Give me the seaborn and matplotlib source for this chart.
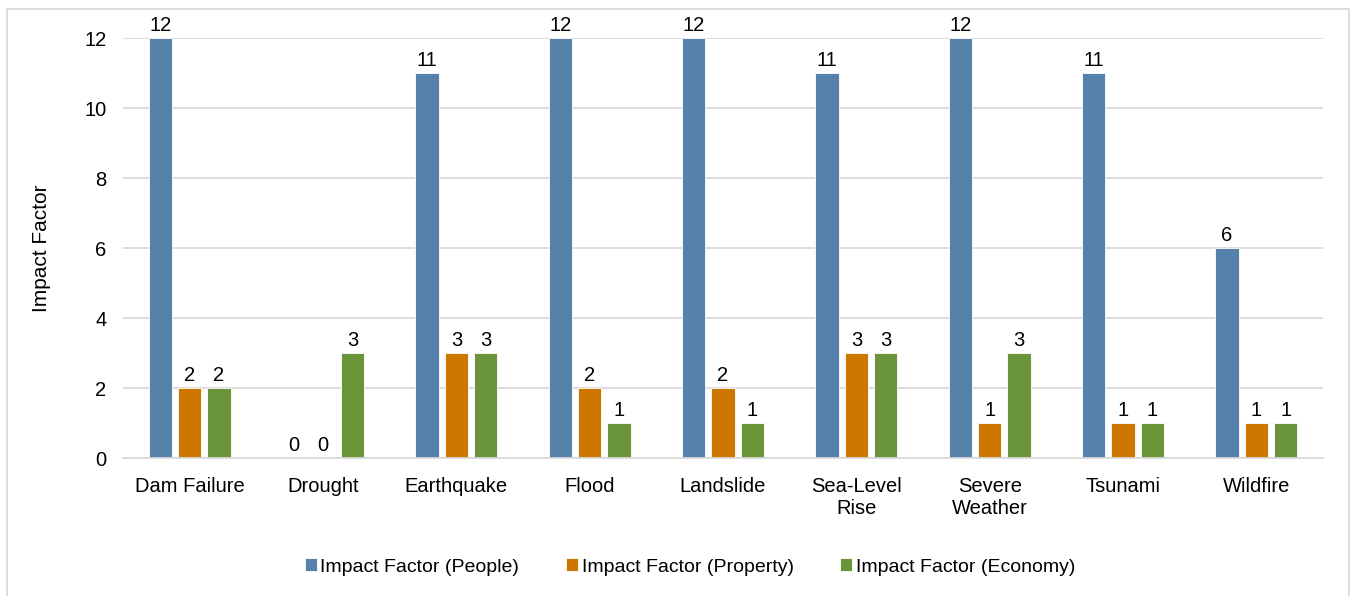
import pandas as pd
import matplotlib
matplotlib.use("Agg")
import matplotlib.pyplot as plt
import seaborn as sns

hazards = ["Dam Failure", "Drought", "Earthquake", "Flood", "Landslide",
           "Sea-Level\nRise", "Severe\nWeather", "Tsunami", "Wildfire"]
people = [12, 0, 11, 12, 12, 11, 12, 11, 6]
prop = [2, 0, 3, 2, 2, 3, 1, 1, 1]
economy = [2, 3, 3, 1, 1, 3, 3, 1, 1]
series = ["Impact Factor (People)", "Impact Factor (Property)", "Impact Factor (Economy)"]
colors = ["#5581AB", "#CC7700", "#6A943A"]

df = pd.DataFrame({"Hazard": hazards, series[0]: people, series[1]: prop, series[2]: economy})
long = df.melt(id_vars="Hazard", var_name="Series", value_name="Value")

sns.set_style("white")
plt.rcParams["font.family"] = ["Liberation Sans", "DejaVu Sans"]
plt.rcParams["text.color"] = "black"
plt.rcParams["axes.labelcolor"] = "black"
plt.rcParams["xtick.color"] = "black"
plt.rcParams["ytick.color"] = "black"

fig = plt.figure(figsize=(13.53, 5.96), dpi=100)
ax = fig.add_axes([123 / 1353, 1 - 458 / 596, (1323 - 123) / 1353, (458 - 38) / 596])

sns.barplot(data=long, x="Hazard", y="Value", hue="Series", palette=colors,
            saturation=1, width=0.66, gap=0.2, ax=ax, edgecolor="white", linewidth=0.6)

for c in ax.containers:
    ax.bar_label(c, fmt="%d", padding=2, fontsize=14.5)

ax.set_ylim(0, 12)
ax.set_yticks(range(0, 13, 2))
ax.yaxis.grid(True, color="#D9D9D9", lw=1.3)
ax.set_axisbelow(True)
for s in ["top", "right", "left"]:
    ax.spines[s].set_visible(False)
ax.spines["bottom"].set_color("#D9D9D9")
ax.spines["bottom"].set_linewidth(1.3)
ax.tick_params(axis="both", length=0, labelsize=14.5, pad=12)
ax.tick_params(axis="x", pad=14)
ax.set_xlabel("")
ax.set_ylabel("Impact Factor", fontsize=15, labelpad=24)

handles, labels = ax.get_legend_handles_labels()
ax.get_legend().remove()
fig.legend(handles, labels, loc="center", bbox_to_anchor=(690 / 1353, 1 - 567 / 596),
           ncol=3, frameon=False, fontsize=14, handlelength=0.6, handleheight=0.6,
           handletextpad=0.2, columnspacing=2.4)

fig.patches.append(plt.Rectangle((7 / 1353, -0.01), 1342 / 1353, 1 - 9 / 596 + 0.01,
                                 transform=fig.transFigure, fill=False,
                                 edgecolor="#D9D9D9", lw=1.3))

fig.savefig("out.png", dpi=100)
